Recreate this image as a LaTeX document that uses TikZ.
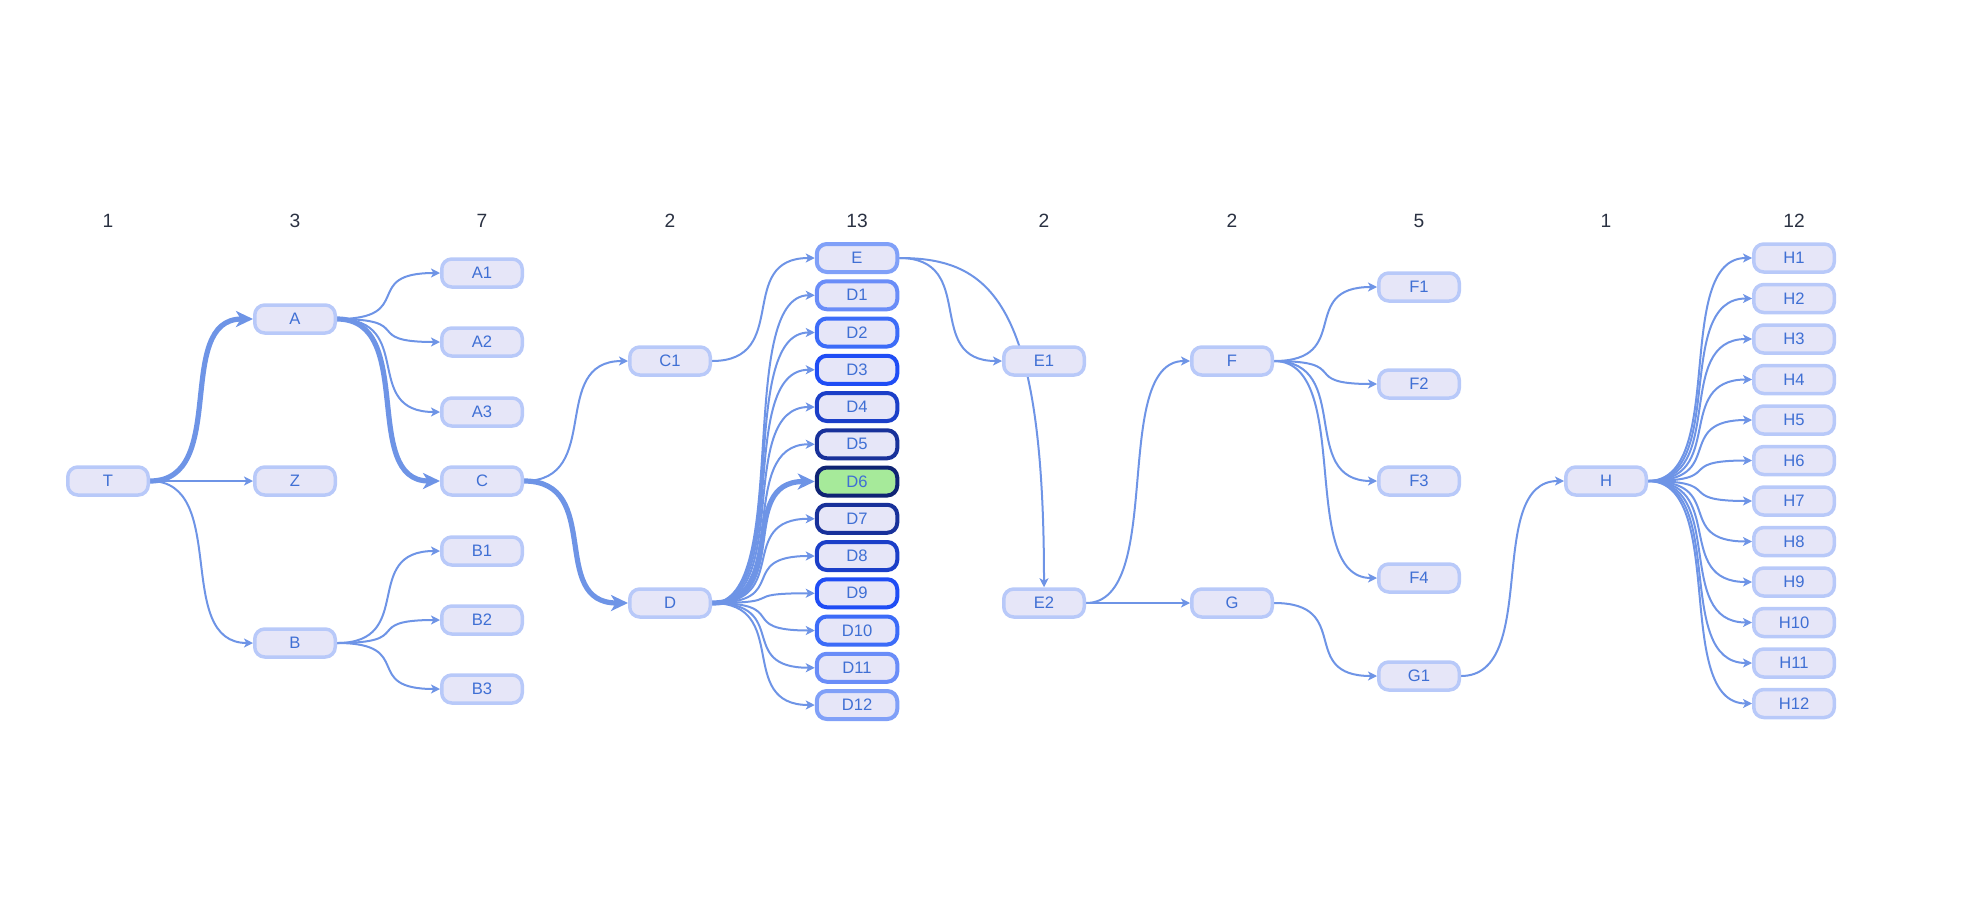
\documentclass[tikz,border=0pt]{standalone}
\usepackage{fontspec}
\setmainfont{Liberation Sans}
\usetikzlibrary{arrows.meta}
\definecolor{nodefill}{HTML}{E6E6F8}
\definecolor{nodeline}{HTML}{B8C9F9}
\definecolor{edgecol}{HTML}{6E94E6}
\definecolor{labelcol}{HTML}{3F6FD4}
\definecolor{headcol}{HTML}{2A3142}
\definecolor{bdA}{HTML}{80A0F8}
\definecolor{bdB}{HTML}{6A8DF8}
\definecolor{bdC}{HTML}{3C6CF8}
\definecolor{bdD}{HTML}{1F4DF5}
\definecolor{bdE}{HTML}{1B3FC8}
\definecolor{bdF}{HTML}{18319A}
\definecolor{bdG}{HTML}{0F2474}
\definecolor{hlfill}{HTML}{A6EA9A}
\pgfdeclarelayer{bg}
\pgfsetlayers{bg,main}
\newcommand\myedge[3][ed]{\draw[#1] (#2.east) .. controls +(80,0) and +(-80,0) .. (#3.west);}
\begin{document}
\begin{tikzpicture}[x=0.5pt,y=-0.5pt,
  nd/.style={draw=nodeline, fill=nodefill, line width=1.75pt, rounded corners=5pt,
    minimum width=40.25pt, minimum height=14pt, inner sep=0pt, text=labelcol,
    font=\fontsize{8.3}{10}\selectfont},
  dn/.style={nd, line width=2pt, draw=#1},
  hd/.style={text=headcol, font=\fontsize{9.6}{11}\selectfont},
  ed/.style={draw=edgecol, line width=1pt, -{Stealth[length=4.5pt,width=4.5pt,inset=1.2pt]}},
  edk/.style={draw=edgecol, line width=2.6pt, -{Stealth[length=8.5pt,width=8pt,inset=2.4pt]}},
]
\useasboundingbox (0,0) rectangle (1968,910);

% headers
\node[hd] (h1) at (108,221) {1};
\node[hd] (h2) at (295,221) {3};
\node[hd] (h3) at (482,221) {7};
\node[hd] (h4) at (670,221) {2};
\node[hd] (h5) at (857,221) {13};
\node[hd] (h6) at (1044,221) {2};
\node[hd] (h7) at (1232,221) {2};
\node[hd] (h8) at (1419,221) {5};
\node[hd] (h9) at (1606,221) {1};
\node[hd] (h10) at (1794,221) {12};

% column 1-3
\node[nd] (T) at (108,481) {T};
\node[nd] (A) at (295,319) {A};
\node[nd] (Z) at (295,481) {Z};
\node[nd] (B) at (295,643) {B};
\node[nd] (A1) at (482,273) {A1};
\node[nd] (A2) at (482,342) {A2};
\node[nd] (A3) at (482,412) {A3};
\node[nd] (C) at (482,481) {C};
\node[nd] (B1) at (482,551) {B1};
\node[nd] (B2) at (482,620) {B2};
\node[nd] (B3) at (482,689) {B3};
% column 4
\node[nd] (C1) at (670,361) {C1};
\node[nd] (D) at (670,603) {D};
% column 5
\node[dn=bdA] (E) at (857,258) {E};
\node[dn=bdB] (D1) at (857,295.25) {D1};
\node[dn=bdC] (D2) at (857,332.5) {D2};
\node[dn=bdD] (D3) at (857,369.75) {D3};
\node[dn=bdE] (D4) at (857,407) {D4};
\node[dn=bdF] (D5) at (857,444.25) {D5};
\node[dn=bdG, fill=hlfill] (D6) at (857,481.5) {D6};
\node[dn=bdF] (D7) at (857,518.75) {D7};
\node[dn=bdE] (D8) at (857,556) {D8};
\node[dn=bdD] (D9) at (857,593.25) {D9};
\node[dn=bdC] (D10) at (857,630.5) {D10};
\node[dn=bdB] (D11) at (857,667.75) {D11};
\node[dn=bdA] (D12) at (857,705) {D12};
% column 6-7
\node[nd] (E1) at (1044,361) {E1};
\node[nd] (E2) at (1044,603) {E2};
\node[nd] (F) at (1232,361) {F};
\node[nd] (G) at (1232,603) {G};
% column 8
\node[nd] (F1) at (1419,287) {F1};
\node[nd] (F2) at (1419,384) {F2};
\node[nd] (F3) at (1419,481) {F3};
\node[nd] (F4) at (1419,578) {F4};
\node[nd] (G1) at (1419,676) {G1};
% column 9-10
\node[nd] (H) at (1606,481) {H};
\node[nd] (H1) at (1794,258) {H1};
\node[nd] (H2) at (1794,298.5) {H2};
\node[nd] (H3) at (1794,339) {H3};
\node[nd] (H4) at (1794,379.5) {H4};
\node[nd] (H5) at (1794,420) {H5};
\node[nd] (H6) at (1794,460.5) {H6};
\node[nd] (H7) at (1794,501) {H7};
\node[nd] (H8) at (1794,541.5) {H8};
\node[nd] (H9) at (1794,582) {H9};
\node[nd] (H10) at (1794,622.5) {H10};
\node[nd] (H11) at (1794,663) {H11};
\node[nd] (H12) at (1794,703.5) {H12};

\begin{pgfonlayer}{bg}
\myedge[edk]{T}{A}
\myedge{T}{Z}
\myedge{T}{B}
\myedge{A}{A1}
\myedge{A}{A2}
\myedge{A}{A3}
\myedge[edk]{A}{C}
\myedge{B}{B1}
\myedge{B}{B2}
\myedge{B}{B3}
\myedge{C}{C1}
\myedge[edk]{C}{D}
\myedge{C1}{E}
\foreach \k in {1,2,3,4,5,7,8,9,10,11,12} {\myedge{D}{D\k}}
\myedge[edk]{D}{D6}
\myedge{E}{E1}
\draw[ed] (E.east) .. controls +(92,0) and +(0,-285) .. (E2.north);
\myedge{E2}{F}
\myedge{E2}{G}
\foreach \k in {1,2,3,4} {\myedge{F}{F\k}}
\myedge{G}{G1}
\myedge{G1}{H}
\foreach \k in {1,...,12} {\myedge{H}{H\k}}
\end{pgfonlayer}
\end{tikzpicture}
\end{document}
